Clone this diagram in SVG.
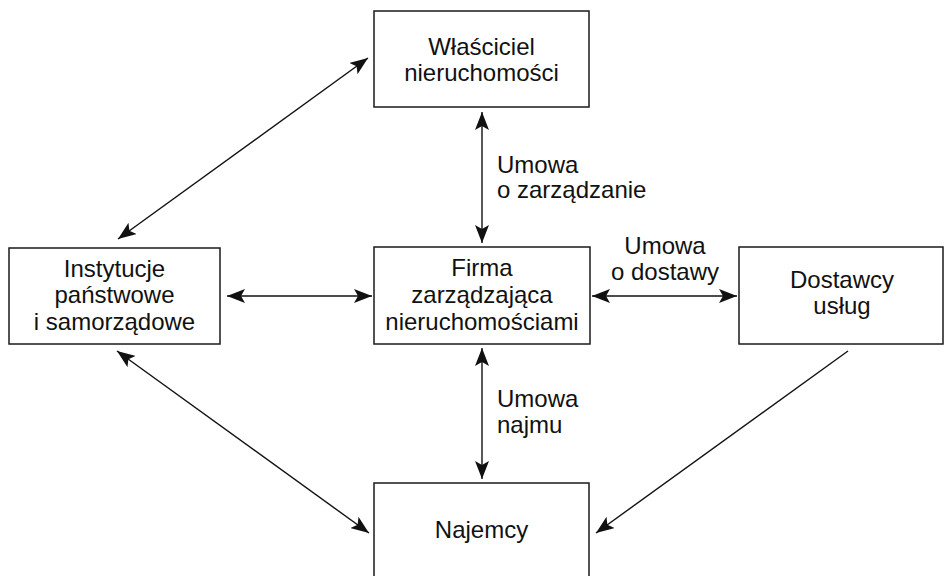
<svg xmlns="http://www.w3.org/2000/svg" width="945" height="576" viewBox="0 0 945 576">
  <style>
    .box { fill: #ffffff; stroke: #1a1a1a; stroke-width: 1.5; }
    .lbl { font-family: "Liberation Sans", Arial, sans-serif; font-size: 24px; fill: #111111; }
    .c { text-anchor: middle; }
    .link { stroke: #111111; stroke-width: 1.4; fill: none; }
  </style>
  <defs>
    <marker id="head" viewBox="0 0 18 14" refX="18" refY="7" markerWidth="18" markerHeight="14" markerUnits="userSpaceOnUse" orient="auto-start-reverse">
      <path d="M0,0 L18,7 L0,14 L4,7 Z" fill="#111111"/>
    </marker>
  </defs>
  <rect width="945" height="576" fill="#ffffff"/>

  <g id="connectors">
    <line class="link" x1="118" y1="239" x2="368" y2="58" marker-start="url(#head)" marker-end="url(#head)"/>
    <line class="link" x1="117" y1="351" x2="369" y2="533" marker-start="url(#head)" marker-end="url(#head)"/>
    <line class="link" x1="848" y1="351" x2="596" y2="533" marker-end="url(#head)"/>
    <line class="link" x1="482" y1="112" x2="482" y2="243" marker-start="url(#head)" marker-end="url(#head)"/>
    <line class="link" x1="482" y1="348" x2="482" y2="479" marker-start="url(#head)" marker-end="url(#head)"/>
    <line class="link" x1="227" y1="296" x2="372" y2="296" marker-start="url(#head)" marker-end="url(#head)"/>
    <line class="link" x1="592" y1="296" x2="737" y2="296" marker-start="url(#head)" marker-end="url(#head)"/>
    <text class="lbl" x="497" y="173">Umowa</text>
    <text class="lbl" x="497" y="198">o zarządzanie</text>
    <text class="lbl" x="497" y="407">Umowa</text>
    <text class="lbl" x="497" y="433">najmu</text>
    <text class="lbl c" x="665" y="254">Umowa</text>
    <text class="lbl c" x="665" y="280">o dostawy</text>
  </g>

  <g id="owner">
    <rect class="box" x="374" y="11" width="215" height="96"/>
    <text class="lbl c" x="481.5" y="55">Właściciel</text>
    <text class="lbl c" x="481.5" y="81">nieruchomości</text>
  </g>

  <g id="institutions">
    <rect class="box" x="9" y="248" width="211" height="96"/>
    <text class="lbl c" x="114.5" y="277">Instytucje</text>
    <text class="lbl c" x="114.5" y="303">państwowe</text>
    <text class="lbl c" x="114.5" y="330">i samorządowe</text>
  </g>

  <g id="company">
    <rect class="box" x="374" y="247" width="216" height="97"/>
    <text class="lbl c" x="482" y="276">Firma</text>
    <text class="lbl c" x="482" y="303">zarządzająca</text>
    <text class="lbl c" x="482" y="330">nieruchomościami</text>
  </g>

  <g id="suppliers">
    <rect class="box" x="739" y="247" width="204" height="97"/>
    <text class="lbl c" x="842" y="288">Dostawcy</text>
    <text class="lbl c" x="842" y="314">usług</text>
  </g>

  <g id="tenants">
    <rect class="box" x="374" y="483" width="215" height="100"/>
    <text class="lbl c" x="481.5" y="538">Najemcy</text>
  </g>
</svg>
